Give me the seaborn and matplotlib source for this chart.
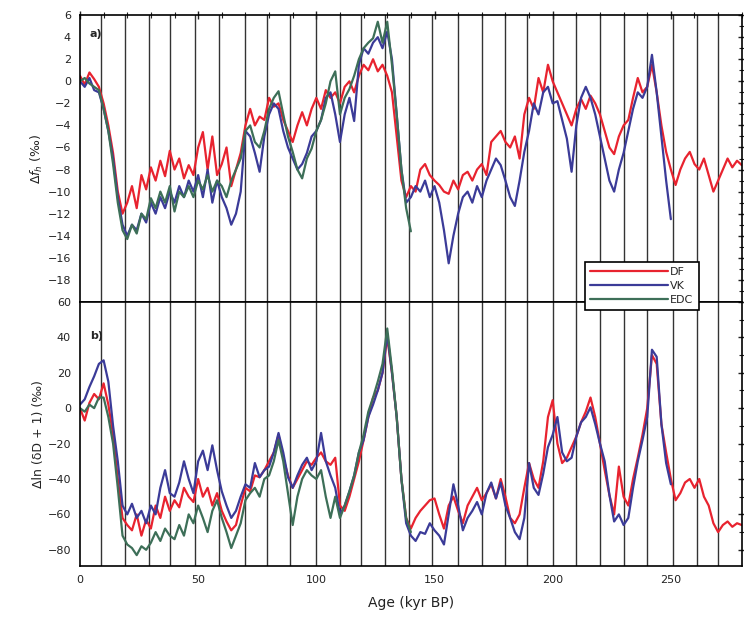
import numpy as np
import pandas as pd
import matplotlib
matplotlib.use("Agg")
import matplotlib.pyplot as plt
from matplotlib.ticker import MultipleLocator
import seaborn as sns

# ---- data (kyr BP, step 2 kyr) ----
age_df = np.arange(0, 281, 2)
age_vk = np.arange(0, 251, 2)
age_edc = np.arange(0, 141, 2)

# panel a)
a_df = [0.5, -0.3, 0.8, 0.2, -0.5, -2.0, -4.0, -6.5, -10.0, -12.0,
        -11.0, -9.5, -11.5, -8.5, -9.8, -7.8, -9.0, -7.2, -8.6, -6.3,
        -8.0, -7.0, -8.8, -7.6, -8.5, -6.0, -4.6, -8.0, -5.0, -8.5,
        -7.5, -6.0, -9.5, -8.0, -6.5, -4.0, -2.5, -4.0, -3.2, -3.5,
        -1.5, -2.3, -2.0, -3.5, -4.5, -5.5, -4.0, -2.8, -4.0, -2.5,
        -1.5, -2.5, -0.8, -1.5, -1.0, -2.0, -0.5, 0.0, -1.0, 0.5,
        1.5, 1.0, 2.0, 0.9, 1.5, 0.5, -1.0, -5.0, -9.0, -10.5,
        -9.5, -10.0, -8.0, -7.5, -8.5, -9.0, -9.4, -10.0, -10.2, -9.0,
        -9.8, -8.5, -8.2, -9.0, -8.0, -7.5, -8.5, -5.5, -5.0, -4.5,
        -5.5, -6.0, -5.0, -7.0, -3.0, -1.5, -2.5, 0.3, -1.0, 1.5,
        0.0, -1.0, -2.0, -3.0, -4.0, -2.5, -1.6, -2.5, -1.3, -2.0,
        -3.0, -4.5, -6.0, -6.6, -5.0, -4.0, -3.5, -1.5, 0.3, -1.0,
        -0.5, 1.5, -1.0, -4.0, -6.4, -8.0, -9.4, -8.0, -7.0, -6.4,
        -7.5, -8.0, -7.0, -8.5, -10.0, -9.0, -8.0, -7.0, -7.8, -7.2,
        -7.6]
a_vk = [0.0, -0.5, 0.3, -0.8, -1.0, -2.5, -4.5, -7.0, -10.5, -13.0,
        -14.0, -13.0, -13.5, -12.0, -12.8, -11.0, -12.0, -10.5, -11.5, -10.0,
        -11.0, -9.5, -10.5, -9.0, -10.0, -8.5, -10.5, -8.0, -11.0, -9.0,
        -10.5, -11.5, -13.0, -12.0, -10.0, -4.5, -5.0, -6.5, -8.2, -5.0,
        -3.0, -2.0, -2.5, -4.5, -6.0, -7.0, -8.0, -7.5, -6.5, -5.0,
        -4.5, -3.5, -1.5, -1.0, -3.0, -5.5, -3.0, -1.5, -3.6, 1.5,
        3.0, 2.5, 3.5, 4.0, 3.0, 4.5, 2.0, -3.0, -8.0, -11.0,
        -10.5, -9.5, -10.0, -9.0, -10.5, -9.5, -11.0, -13.5, -16.5, -14.0,
        -12.0, -10.5, -10.0, -11.0, -9.5, -10.5, -9.0, -8.0, -7.0, -7.6,
        -9.0, -10.5, -11.3, -9.0, -6.4, -4.5, -2.0, -3.0, -1.0, -0.5,
        -2.0, -1.8, -3.5, -5.2, -8.2, -4.0, -1.5, -0.5, -1.5, -3.0,
        -5.0, -7.0, -9.0, -10.0, -8.0, -6.5, -4.5, -2.5, -1.0, -1.5,
        -0.5, 2.4, -1.0, -5.0, -9.0, -12.5]
a_edc = [0.0, 0.3, -0.2, -0.5, -0.8, -2.5, -4.5, -7.5, -11.0, -13.5,
         -14.3, -13.0, -13.8, -12.0, -12.5, -10.6, -11.5, -10.0, -11.0, -9.5,
         -11.8, -10.0, -10.5, -9.5, -10.5, -9.0, -9.8, -8.5, -10.0, -9.0,
         -9.5, -10.5, -9.0, -8.0, -7.0, -4.5, -4.0, -5.5, -6.0, -4.5,
         -2.5, -1.5, -0.9, -3.0, -5.0, -6.4, -8.0, -8.8, -7.0, -6.1,
         -4.5, -3.5, -2.0, 0.0, 0.9, -3.0, -1.5, -0.7, 0.5, 2.0,
         3.0, 3.5, 3.9, 5.4, 3.5, 5.4, 1.5, -3.0, -8.0, -11.5,
         -13.6]

# panel b)
b_df = [0, -7, 3, 8, 5, 14, 2, -15, -40, -62,
        -66, -69, -60, -72, -63, -68, -55, -62, -50, -58,
        -52, -56, -45, -50, -53, -40, -50, -45, -55, -48,
        -58, -64, -69, -66, -55, -45, -47, -38, -39, -35,
        -30, -25, -15, -28, -38, -45, -40, -35, -30, -32,
        -28, -25, -30, -32, -28, -55, -58, -50, -40, -30,
        -18, -5, 6, 10, 20, 40, 20, -5, -40, -62,
        -68, -62, -58, -55, -52, -51, -60, -68, -55, -50,
        -58, -65, -55, -50, -45, -52, -48, -43, -51, -40,
        -50, -62, -65, -60, -45, -31, -40, -45, -30, -5,
        4.5, -20, -31, -28, -22, -16, -8, -2, 6, -5,
        -20, -35, -49, -60, -33, -50, -55, -40, -28, -15,
        0, 30, 25, -9, -25, -40, -52, -48, -42, -40,
        -45, -40, -50, -55, -65, -70, -66, -64, -67, -65,
        -66]
b_vk = [2, 5, 12, 18, 25, 27, 15, -10, -30, -55,
        -60, -54, -62, -58, -65, -55, -60, -45, -35, -48,
        -50, -42, -30, -40, -48, -30, -24, -35, -21, -35,
        -47, -55, -62, -58, -50, -43, -45, -31, -39, -35,
        -33, -25, -14, -25, -39, -45, -38, -32, -28, -35,
        -30, -14, -30, -38, -45, -60, -55, -47, -38, -25,
        -18, -5, 2, 10, 20, 42, 20, -5, -40, -65,
        -72, -75, -70, -71, -65, -69, -72, -77, -60, -43,
        -55, -69, -62, -58, -53, -60, -48, -42, -51, -42,
        -55, -62, -70, -74, -62, -31, -45, -49, -37, -22,
        -15, -5, -25, -30, -28, -16, -8, -5, 0.5, -9,
        -20, -30, -49, -64, -60, -66, -62, -45, -30, -18,
        -5, 33, 29, -9, -31, -43]
b_edc = [0, -2, 2, 0, 6, 6, -5, -20, -45, -72,
         -77, -79, -83, -78, -80, -76, -70, -75, -68, -72,
         -74, -66, -72, -60, -65, -55, -62, -70, -58, -52,
         -62, -70, -79, -72, -65, -52, -48, -45, -50, -40,
         -38, -30, -18, -30, -48, -66, -50, -40, -35, -38,
         -40, -35, -50, -62, -50, -62, -55, -47, -38, -25,
         -15, -2, 6, 15, 25, 45, 22, -5, -40, -62,
         -70]

# vertical marker lines (kyr BP)
marker_ages = [9, 19, 29, 38, 48.5, 59, 70, 79, 89, 100, 110, 119, 129, 139,
               149, 160, 170, 180, 189, 200, 210, 220, 230, 240, 251, 261, 270]

cores = ["DF", "VK", "EDC"]
colors = {"DF": "#e8232f", "VK": "#3b3b98", "EDC": "#3d6f58"}


def frame(ages, vals, core, panel):
    return pd.DataFrame({"age": ages, "value": vals, "core": core, "panel": panel})


df = pd.concat([
    frame(age_df, a_df, "DF", "a"), frame(age_vk, a_vk, "VK", "a"),
    frame(age_edc, a_edc, "EDC", "a"),
    frame(age_df, b_df, "DF", "b"), frame(age_vk, b_vk, "VK", "b"),
    frame(age_edc, b_edc, "EDC", "b"),
], ignore_index=True)

sns.set_style("white")
plt.rcParams["font.family"] = ["DejaVu Sans"]

fig = plt.figure(figsize=(7.44, 6.30), dpi=100)
gs = fig.add_gridspec(2, 1, height_ratios=[287, 264], hspace=0,
                      left=0.1075, right=0.997, top=0.976, bottom=0.102)
ax_a = fig.add_subplot(gs[0])
ax_b = fig.add_subplot(gs[1], sharex=ax_a)

for ax, panel in [(ax_a, "a"), (ax_b, "b")]:
    sns.lineplot(data=df[df.panel == panel], x="age", y="value", hue="core",
                 hue_order=cores, palette=colors, estimator=None, sort=False,
                 lw=1.6, ax=ax, legend=(panel == "a"))
    for m in marker_ages:
        ax.axvline(m, color="#333333", lw=1.0, zorder=0)
    for s in ax.spines.values():
        s.set_color("black")
        s.set_linewidth(1.2)
    ax.tick_params(which="both", direction="inout", top=True, right=True,
                   labelsize=8, colors="#222222")
    ax.tick_params(which="major", length=6, width=1)
    ax.tick_params(which="minor", length=4, width=0.8)
    ax.set_xlabel("")

handles, labels = ax_a.get_legend_handles_labels()
ax_a.get_legend().remove()

ax_a.set_xlim(0, 280)
ax_a.set_ylim(-20, 6)
ax_a.yaxis.set_major_locator(MultipleLocator(2))
ax_a.yaxis.set_minor_locator(MultipleLocator(1))
ax_a.set_yticks(np.arange(-18, 7, 2))
ax_a.tick_params(axis="x", which="both", labelbottom=False)

ax_b.set_ylim(-89, 60)
ax_b.yaxis.set_major_locator(MultipleLocator(20))
ax_b.yaxis.set_minor_locator(MultipleLocator(10))
ax_b.xaxis.set_major_locator(MultipleLocator(50))
ax_b.xaxis.set_minor_locator(MultipleLocator(10))
ax_b.tick_params(axis="x", which="both", top=False)

ax_a.set_ylabel(r"$\Delta f_h$ (‰)", fontsize=9, color="#222222", labelpad=2)
ax_b.set_ylabel("Δln (δD + 1) (‰)", fontsize=9, color="#222222", labelpad=2)
ax_b.set_xlabel("Age (kyr BP)", fontsize=10, color="#222222", labelpad=8)

ax_a.text(0.015, 0.95, "a)", transform=ax_a.transAxes, fontsize=8,
          fontweight="bold", va="top", ha="left")
ax_b.text(0.015, 0.89, "b)", transform=ax_b.transAxes, fontsize=8,
          fontweight="bold", va="top", ha="left")

leg = fig.legend(handles, labels, loc="upper left",
                 bbox_to_anchor=(579 / 744, 1 - 256 / 630), fontsize=8,
                 handlelength=7, frameon=True, fancybox=False, framealpha=1,
                 edgecolor="black", borderpad=0.5, labelspacing=0.35,
                 handletextpad=0.2)
leg.get_frame().set_linewidth(1.2)

fig.savefig("out.png", dpi=100)
